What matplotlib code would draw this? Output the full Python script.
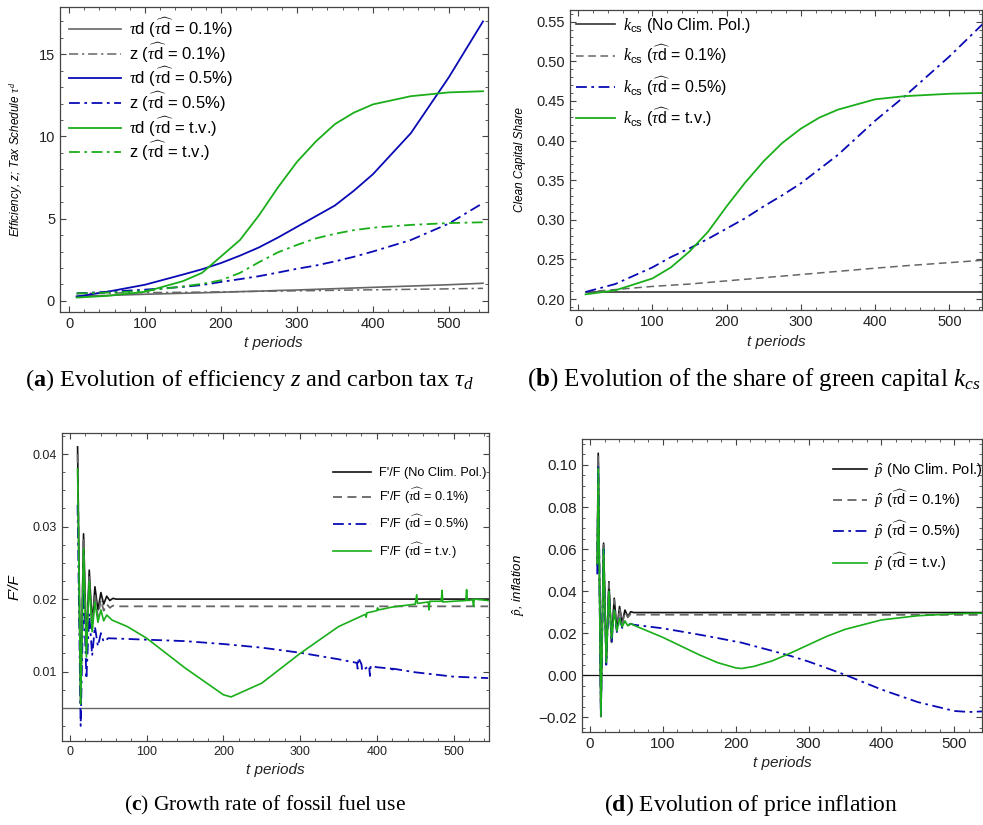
import matplotlib
matplotlib.use("Agg")
import matplotlib.pyplot as plt
from matplotlib.ticker import MultipleLocator

plt.rcParams['font.family'] = ['Liberation Sans', 'DejaVu Sans']
plt.rcParams['mathtext.fontset'] = 'custom'
plt.rcParams['mathtext.rm'] = 'Liberation Sans'
plt.rcParams['mathtext.it'] = 'Liberation Serif:italic'
plt.rcParams['mathtext.bf'] = 'Liberation Serif:bold'

# (a) tax schedule and efficiency
t_a = [10, 50, 100, 150, 175, 200, 225, 250, 275, 300, 325, 350, 375, 400, 450, 500, 545]
tau_01 = [0.28, 0.33, 0.40, 0.46, 0.49, 0.52, 0.56, 0.59, 0.63, 0.66, 0.70, 0.74, 0.78, 0.82, 0.90, 0.98, 1.07]
z_01 = [0.45, 0.47, 0.50, 0.52, 0.53, 0.55, 0.56, 0.58, 0.59, 0.61, 0.62, 0.64, 0.66, 0.67, 0.70, 0.73, 0.76]
tau_05 = [0.26, 0.55, 0.98, 1.6, 1.92, 2.3, 2.75, 3.25, 3.85, 4.5, 5.15, 5.8, 6.7, 7.7, 10.2, 13.6, 17.0]
z_05 = [0.45, 0.55, 0.68, 0.85, 0.96, 1.15, 1.32, 1.5, 1.72, 1.95, 2.15, 2.4, 2.68, 3.0, 3.7, 4.7, 5.95]
tau_tv = [0.2, 0.3, 0.55, 1.2, 1.7, 2.7, 3.7, 5.2, 6.9, 8.45, 9.7, 10.75, 11.45, 11.95, 12.45, 12.68, 12.75]
z_tv = [0.45, 0.5, 0.6, 0.88, 1.03, 1.25, 1.7, 2.35, 2.95, 3.4, 3.8, 4.08, 4.3, 4.45, 4.62, 4.73, 4.78]

# (b) clean capital share
t_b = [10, 50, 100, 125, 150, 175, 200, 225, 250, 275, 300, 325, 350, 400, 440, 500, 545]
k_none = [0.2095, 0.2095, 0.2095, 0.2095, 0.2095, 0.2095, 0.2095, 0.2095, 0.2095, 0.2095, 0.2095,
          0.2095, 0.2095, 0.2095, 0.2095, 0.2095, 0.2095]
k_01 = [0.209, 0.212, 0.216, 0.2175, 0.219, 0.221, 0.223, 0.225, 0.227, 0.229, 0.231, 0.233, 0.235,
        0.239, 0.242, 0.246, 0.249]
k_05 = [0.209, 0.219, 0.240, 0.253, 0.264, 0.276, 0.289, 0.302, 0.317, 0.331, 0.346, 0.364, 0.382,
        0.425, 0.456, 0.506, 0.547]
k_tv = [0.206, 0.211, 0.226, 0.240, 0.260, 0.285, 0.317, 0.347, 0.374, 0.397, 0.415, 0.429, 0.439,
        0.452, 0.456, 0.459, 0.460]

# (c) growth rate of fossil fuel use
t_c_none = [10, 14, 17.8, 21.5, 25.2, 29, 32.6, 36.5, 40.4, 44, 48, 52, 56, 60, 545]
ff_none = [0.041, 0.0058, 0.029, 0.0135, 0.024, 0.0165, 0.0217, 0.0185, 0.0209, 0.0193, 0.0204, 0.0198, 0.0201, 0.020, 0.020]
ff_01 = [0.040, 0.0056, 0.0285, 0.013, 0.0232, 0.0158, 0.0208, 0.0176, 0.0199, 0.0184, 0.0193, 0.0188, 0.0191, 0.019, 0.019]
t_c_05 = [10, 14, 17.8, 21.5, 25.2, 29, 32.6, 36.5, 40.4, 44, 50, 100, 150, 200, 250, 300, 350,
          374, 375, 376, 380, 381, 390, 391, 392, 400, 419, 420, 421, 450, 500, 545]
ff_05 = [0.033, 0.0025, 0.0215, 0.009, 0.0180, 0.0122, 0.0162, 0.0135, 0.0153, 0.0141, 0.0146,
         0.0144, 0.0142, 0.0138, 0.0133, 0.0126, 0.0117,
         0.0112, 0.0104, 0.0119, 0.0110, 0.0101, 0.0108, 0.0094, 0.0108, 0.0106, 0.0104, 0.0099, 0.0104,
         0.0099, 0.0093, 0.0091]
t_c_tv = [10, 14, 17.8, 21.5, 25.2, 29, 32.6, 36.5, 40.4, 44, 48, 55, 75, 100, 150, 200, 210, 250, 300, 350,
          385, 386, 387, 400, 401, 402, 420, 450, 452, 453, 467, 468, 469, 484, 485, 486, 500,
          516, 517, 518, 525, 526, 527, 545]
ff_tv = [0.038, 0.0055, 0.027, 0.012, 0.0225, 0.0155, 0.0196, 0.0168, 0.0185, 0.0170, 0.0178, 0.0171, 0.0162,
         0.0146, 0.0105, 0.0068, 0.0065, 0.0084, 0.0125, 0.0162,
         0.0179, 0.0175, 0.0181, 0.0184, 0.0188, 0.0185, 0.0189, 0.0193, 0.0206, 0.0194, 0.0196, 0.0185, 0.0197,
         0.0197, 0.0212, 0.0196, 0.0197, 0.0198, 0.0213, 0.0198, 0.0199, 0.0190, 0.0200, 0.0198]
ff_ref = 0.005

# (d) price inflation
t_d_none = [10, 11.4, 15, 18.7, 22.4, 26, 29.7, 33.3, 37, 40.6, 44.3, 48, 52, 56, 60, 545]
p_none = [0.053, 0.1056, -0.0197, 0.0628, 0.0057, 0.0445, 0.016, 0.0366, 0.0216, 0.0327, 0.025, 0.031, 0.028, 0.0302, 0.0298, 0.0298]
p_01 = [0.052, 0.104, -0.0195, 0.062, 0.0055, 0.0438, 0.0156, 0.0358, 0.0212, 0.0318, 0.0245, 0.030, 0.0275, 0.0293, 0.0288, 0.0287]
t_d_pol = [10, 11.4, 15, 18.7, 22.4, 26, 29.7, 33.3, 37, 40.6, 44.3, 48, 52, 56, 60,
           100, 150, 175, 200, 208, 225, 250, 275, 300, 325, 350, 400, 450, 500, 520, 545]
p_05 = [0.048, 0.099, -0.02, 0.060, 0.005, 0.040, 0.0155, 0.031, 0.0205, 0.027, 0.0225, 0.0255, 0.0238, 0.0245, 0.024,
        0.0223, 0.0193, 0.0177, 0.016, 0.0155, 0.0139, 0.0116, 0.0092, 0.0065, 0.0034, 0.0002, -0.0068, -0.0128, -0.0170, -0.0175, -0.0171]
p_tv = [0.053, 0.0985, -0.0195, 0.060, 0.006, 0.040, 0.0175, 0.031, 0.021, 0.027, 0.023, 0.0258, 0.0235, 0.0245, 0.0238,
        0.018, 0.0097, 0.006, 0.0035, 0.0032, 0.0042, 0.0068, 0.0105, 0.0145, 0.0185, 0.0218, 0.0263, 0.0283, 0.0292, 0.0294, 0.0295]

BLACK = '#111111'
GRAY = '#666666'
BLUE = '#0a0ab4'
GREEN = '#1aae1a'
DASH = (0, (5, 3))
DASHDOT = (0, (6, 2.5, 1.5, 2.5))
TD = r"$\widehat{\tau\mathrm{d}}$"

fig = plt.figure(figsize=(9.83, 8.25), dpi=100)
ax_a = fig.add_axes([0.061, 0.622, 0.435, 0.370])
ax_b = fig.add_axes([0.580, 0.624, 0.419, 0.364])
ax_c = fig.add_axes([0.063, 0.102, 0.434, 0.373])
ax_d = fig.add_axes([0.592, 0.113, 0.407, 0.355])


def frame(ax, ymaj, ymin, size):
    ax.xaxis.set_major_locator(MultipleLocator(100))
    ax.xaxis.set_minor_locator(MultipleLocator(20))
    ax.yaxis.set_major_locator(MultipleLocator(ymaj))
    ax.yaxis.set_minor_locator(MultipleLocator(ymin))
    ax.tick_params(which='both', direction='in', top=True, right=True, color='#444444')
    ax.tick_params(which='major', length=4.5, width=0.8, labelsize=size, labelcolor='#222222')
    ax.tick_params(which='minor', length=2.5, width=0.6)
    for s in ax.spines.values():
        s.set_color('#444444')
        s.set_linewidth(0.9)
    ax.set_xlabel('t periods', style='italic', fontsize=11, color='#222222')


# panel a
ax_a.plot(t_a, tau_01, color=GRAY, lw=1.2, label=r"$\tau$d (" + TD + " = 0.1%)")
ax_a.plot(t_a, z_01, color=GRAY, lw=1.1, ls=DASHDOT, label="z (" + TD + " = 0.1%)")
ax_a.plot(t_a, tau_05, color=BLUE, lw=1.3, label=r"$\tau$d (" + TD + " = 0.5%)")
ax_a.plot(t_a, z_05, color=BLUE, lw=1.3, ls=DASHDOT, label="z (" + TD + " = 0.5%)")
ax_a.plot(t_a, tau_tv, color=GREEN, lw=1.3, label=r"$\tau$d (" + TD + " = t.v.)")
ax_a.plot(t_a, z_tv, color=GREEN, lw=1.3, ls=DASHDOT, label="z (" + TD + " = t.v.)")
ax_a.set_xlim(-12, 551)
ax_a.set_ylim(-0.67, 17.9)
frame(ax_a, 5, 1, 10.5)
ax_a.set_ylabel(r"Efficiency, z; Tax Schedule $\tau^{d}$", style='italic', fontsize=8.5, labelpad=10)
ax_a.legend(loc='upper left', frameon=False, fontsize=12, handlelength=3.1, handletextpad=0.5,
            labelspacing=0.04, borderpad=0, borderaxespad=0.55)

# panel b
ax_b.plot(t_b, k_none, color='#333333', lw=1.2, label=r"$k_{\mathrm{cs}}$ (No Clim. Pol.)")
ax_b.plot(t_b, k_01, color=GRAY, lw=1.1, ls=DASH, label=r"$k_{\mathrm{cs}}$ (" + TD + " = 0.1%)")
ax_b.plot(t_b, k_05, color=BLUE, lw=1.3, ls=DASHDOT, label=r"$k_{\mathrm{cs}}$ (" + TD + " = 0.5%)")
ax_b.plot(t_b, k_tv, color=GREEN, lw=1.3, label=r"$k_{\mathrm{cs}}$ (" + TD + " = t.v.)")
ax_b.set_xlim(-10.75, 544)
ax_b.set_ylim(0.186, 0.5648)
frame(ax_b, 0.05, 0.01, 10.5)
ax_b.set_ylabel("Clean Capital Share", style='italic', fontsize=8.5, labelpad=8)
ax_b.legend(loc='upper left', frameon=False, fontsize=11.5, handlelength=2.4, handletextpad=0.5,
            labelspacing=0.46, borderpad=0, borderaxespad=0.38)

# panel c
ax_c.axhline(ff_ref, color=GRAY, lw=1.0)
ax_c.plot(t_c_none, ff_none, color=BLACK, lw=1.2, label="F'/F (No Clim. Pol.)")
ax_c.plot(t_c_none, ff_01, color=GRAY, lw=1.3, ls=DASH, label="F'/F (" + TD + " = 0.1%)")
ax_c.plot(t_c_05, ff_05, color=BLUE, lw=1.3, ls=DASHDOT, label="F'/F (" + TD + " = 0.5%)")
ax_c.plot(t_c_tv, ff_tv, color=GREEN, lw=1.2, label="F'/F (" + TD + " = t.v.)")
ax_c.set_xlim(-10.4, 545.6)
ax_c.set_ylim(0.00044, 0.0429)
frame(ax_c, 0.01, 0.0025, 9)
ax_c.set_ylabel("F'/F", style='italic', fontsize=11, labelpad=8)
ax_c.legend(loc='upper left', bbox_to_anchor=(0.635, 0.89), frameon=False, fontsize=9.2, handlelength=3.0,
            handletextpad=0.6, labelspacing=0.56, borderpad=0, borderaxespad=0)

# panel d
ax_d.axhline(0, color=BLACK, lw=0.9)
ax_d.plot(t_d_none, p_none, color=BLACK, lw=1.2, label=r"$\hat{p}$ (No Clim. Pol.)")
ax_d.plot(t_d_none, p_01, color=GRAY, lw=1.3, ls=DASH, label=r"$\hat{p}$ (" + TD + " = 0.1%)")
ax_d.plot(t_d_pol, p_05, color=BLUE, lw=1.3, ls=DASHDOT, label=r"$\hat{p}$ (" + TD + " = 0.5%)")
ax_d.plot(t_d_pol, p_tv, color=GREEN, lw=1.2, label=r"$\hat{p}$ (" + TD + " = t.v.)")
ax_d.set_xlim(-11, 538)
ax_d.set_ylim(-0.0269, 0.1124)
frame(ax_d, 0.02, 0.005, 11)
ax_d.set_ylabel(r"$\hat{p}$, inflation", style='italic', fontsize=9.5, labelpad=8)
ax_d.legend(loc='upper left', bbox_to_anchor=(0.628, 0.925), frameon=False, fontsize=10.5, handlelength=2.3,
            handletextpad=0.5, labelspacing=0.58, borderpad=0, borderaxespad=0)

# sub-captions
cap = dict(family='Liberation Serif', ha='center', va='center')
fig.text(0.254, 1 - 380 / 825, r"($\mathbf{a}$) Evolution of efficiency $z$ and carbon tax $\tau_d$",
         fontsize=17.5, **cap)
fig.text(0.767, 1 - 380 / 825, r"($\mathbf{b}$) Evolution of the share of green capital $k_{cs}$",
         fontsize=18, **cap)
fig.text(0.270, 1 - 805 / 825, r"($\mathbf{c}$) Growth rate of fossil fuel use", fontsize=15.5, **cap)
fig.text(0.764, 1 - 805 / 825, r"($\mathbf{d}$) Evolution of price inflation", fontsize=17, **cap)

fig.savefig('out.png', dpi=100)
